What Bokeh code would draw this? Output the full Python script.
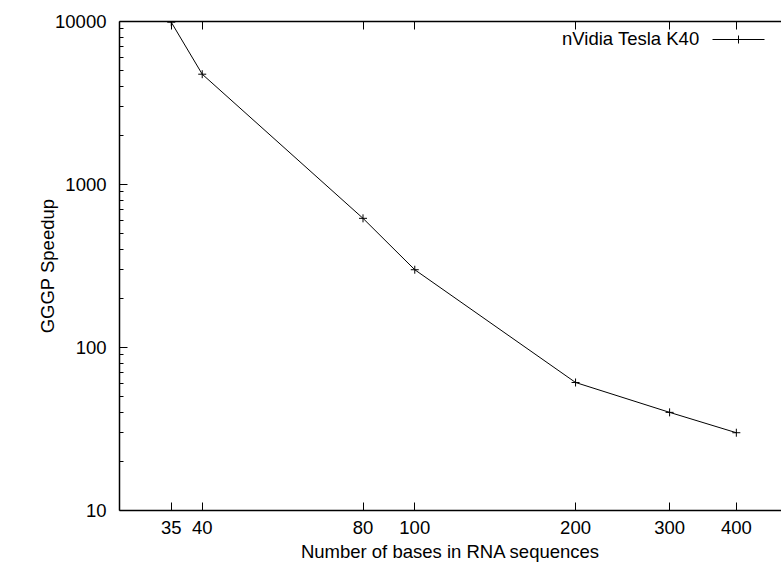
from bokeh.plotting import figure
from bokeh.models import (FixedTicker, LogAxis, Label, Arrow, Range1d,
                          PrintfTickFormatter, CustomJSTickFormatter)
from bokeh.embed import file_html
from bokeh.resources import INLINE

# ---- data ----
bases = [35, 40, 80, 100, 200, 300, 400]
speedup = [9900, 4750, 620, 300, 61, 40, 30]
series_name = "nVidia Tesla K40"
x_ticks = [35, 40, 80, 100, 200, 300, 400]
y_ticks = [10, 100, 1000, 10000]
y_minor = [m * d for d in (10, 100, 1000) for m in range(2, 10)]
x_title = "Number of bases in RNA sequences"
y_title = "GGGP Speedup"

FONT = "Liberation Sans"
FS = "18.5px"

p = figure(width=781, height=566, x_axis_type="log", y_axis_type="log",
           x_range=Range1d(28, 486), y_range=Range1d(10, 10000),
           output_backend="svg", toolbar_location=None,
           min_border_left=119, min_border_right=0, min_border_top=21,
           min_border_bottom=56)
p.background_fill_color = "white"
p.border_fill_color = "white"
p.outline_line_color = None
p.xgrid.visible = False
p.ygrid.visible = False

p.line(bases, speedup, line_color="black", line_width=1)
p.scatter(bases, speedup, marker="cross", size=8, line_color="black", line_width=1)

# bottom axis
xa = p.xaxis[0]
xa.ticker = FixedTicker(ticks=x_ticks, minor_ticks=[])
xa.formatter = PrintfTickFormatter(format="%d")
xa.major_tick_in = 8
xa.major_tick_out = 0
xa.minor_tick_in = 0
xa.minor_tick_out = 0
xa.axis_line_width = 1.5
xa.axis_line_color = "black"
xa.major_tick_line_color = "black"
xa.major_label_text_font = FONT
xa.major_label_text_font_size = FS
xa.major_label_text_color = "black"
xa.major_label_standoff = 10
xa.axis_label = x_title
xa.axis_label_text_font = FONT
xa.axis_label_text_font_size = FS
xa.axis_label_text_font_style = "normal"
xa.axis_label_text_color = "black"
xa.axis_label_standoff = 4

# left axis
ya = p.yaxis[0]
ya.ticker = FixedTicker(ticks=y_ticks, minor_ticks=y_minor)
ya.formatter = PrintfTickFormatter(format="%d")
ya.major_tick_in = 8
ya.major_tick_out = 0
ya.minor_tick_in = 4
ya.minor_tick_out = 0
ya.axis_line_width = 1.5
ya.axis_line_color = "black"
ya.major_tick_line_color = "black"
ya.minor_tick_line_color = "black"
ya.major_label_text_font = FONT
ya.major_label_text_font_size = FS
ya.major_label_text_color = "black"
ya.major_label_standoff = 13
ya.axis_label = y_title
ya.axis_label_text_font = FONT
ya.axis_label_text_font_size = FS
ya.axis_label_text_font_style = "normal"
ya.axis_label_text_color = "black"
ya.axis_label_standoff = -6

# top mirror axis (ticks only)
top = LogAxis(ticker=FixedTicker(ticks=x_ticks, minor_ticks=[]))
top.formatter = CustomJSTickFormatter(code="return ''")
top.major_tick_in = 8
top.major_tick_out = 0
top.minor_tick_in = 0
top.minor_tick_out = 0
top.axis_line_width = 1.5
top.axis_line_color = "black"
top.major_tick_line_color = "black"
top.major_label_standoff = 0
p.add_layout(top, "above")

# legend (label left of sample, gnuplot style)
p.add_layout(Label(x=699, y=38, x_units="canvas", y_units="canvas",
                   text=series_name, text_align="right", text_baseline="middle",
                   text_font=FONT, text_font_size=FS, text_color="black"))
p.add_layout(Arrow(x_start=712, y_start=39, x_end=764, y_end=39,
                   start_units="canvas", end_units="canvas", end=None,
                   line_color="black", line_width=1))
p.add_layout(Arrow(x_start=738, y_start=35, x_end=738, y_end=43,
                   start_units="canvas", end_units="canvas", end=None,
                   line_color="black", line_width=1))

open("out.html", "w").write(file_html(p, INLINE))
